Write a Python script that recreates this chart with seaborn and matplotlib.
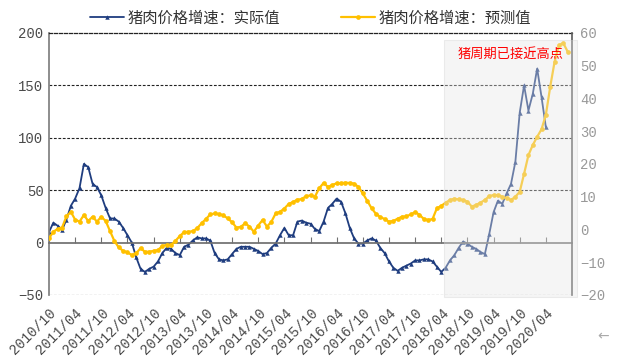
import matplotlib
matplotlib.use("Agg")
import matplotlib.pyplot as plt
import matplotlib.transforms as mtransforms
from matplotlib.patches import Rectangle
import pandas as pd
import seaborn as sns

# months counted from 2010/10, one point per month
actual = [10, 19, 16, 12, 22, 35, 42, 52, 75, 72,
          56, 53, 45, 33, 23, 23, 20, 14, 7, 0,
          -14, -25, -28, -25, -23, -18, -10, -5, -6, -10,
          -12, -4, -2, 2, 5, 4, 4, 2, -10, -16,
          -17, -16, -11, -6, -4, -4, -4, -6, -8, -11,
          -10, -5, -1, 7, 14, 7, 7, 20, 21, 19,
          18, 13, 11, 20, 33, 37, 42, 39, 28, 14,
          4, -1, -1, 2, 4, 2, -5, -10, -18, -24,
          -27, -24, -22, -20, -17, -17, -16, -16, -18, -23,
          -28, -24, -17, -12, -5, 1, -1, -4, -6, -9,
          -11, 8, 29, 40, 37, 47, 56, 77, 124, 150,
          126, 142, 166, 139, 110]
forecast = [-2.7, -0.7, 0.2, 0.6, 4.0, 5.4, 3.0, 2.4, 4.4, 2.6,
            3.9, 2.4, 3.9, 2.6, -0.5, -3.5, -5.5, -6.5, -7.0, -7.8,
            -7.3, -5.7, -6.8, -6.8, -6.5, -6.3, -5.0, -4.7, -4.7, -3.5,
            -2.0, -0.8, -0.7, -0.5, 0.4, 1.9, 3.2, 4.6, 4.9, 4.7,
            4.3, 3.4, 2.2, 0.6, 0.8, 1.9, 0.9, -0.7, 1.2, 2.9,
            0.9, 2.3, 4.9, 5.4, 6.4, 7.8, 8.4, 9.1, 9.3, 10.2,
            10.4, 10.0, 12.6, 14.2, 13.0, 13.6, 14.1, 14.1, 14.3, 14.2,
            14.0, 13.0, 11.0, 8.8, 6.5, 4.8, 3.8, 3.2, 2.4, 2.6,
            3.3, 3.9, 4.0, 4.6, 5.3, 4.5, 3.2, 2.9, 3.2, 6.5,
            7.2, 8.2, 9.0, 9.4, 9.2, 9.0, 8.5, 7.0, 7.5, 8.2,
            9.0, 10.2, 10.5, 10.5, 10.0, 9.6, 9.0, 10.0, 11.5, 17.0,
            22.7, 25.8, 28.3, 30.6, 35.0, 43.6, 51.2, 56.3, 56.9, 54.3]
tick_labels = ["2010/10", "2011/04", "2011/10", "2012/04", "2012/10",
               "2013/04", "2013/10", "2014/04", "2014/10", "2015/04",
               "2015/10", "2016/04", "2016/10", "2017/04", "2017/10",
               "2018/04", "2018/10", "2019/04", "2019/10", "2020/04"]
label_actual = "猪肉价格增速：实际值"
label_forecast = "猪肉价格增速：预测值"
note = "猪周期已接近高点"
shade_start = 90.6  # start of the shaded forecast window (months)

df_a = pd.DataFrame({"m": range(len(actual)), "v": actual})
df_f = pd.DataFrame({"m": range(len(forecast)), "v": forecast})

sns.set_theme(style="white")
plt.rcParams["font.family"] = ["Noto Sans CJK SC", "DejaVu Sans"]
mono = "Liberation Mono"

BLUE = "#1f3d7f"
GOLD = "#ffc000"

fig = plt.figure(figsize=(6.18, 3.6), dpi=100)
ax = fig.add_axes([0.0793, 0.1806, 0.8463, 0.7278])
ax2 = ax.twinx()

sns.lineplot(data=df_a, x="m", y="v", ax=ax, color=BLUE, linewidth=1.3,
             marker="^", markersize=3.2, markeredgewidth=0, legend=False)
sns.lineplot(data=df_f, x="m", y="v", ax=ax2, color=GOLD, linewidth=1.6,
             marker="o", markersize=3.4, markeredgewidth=0, legend=False)

ax.set_xlim(0, 120)
ax.set_ylim(-50, 200)
ax2.set_ylim(-20, 60)
ax.set_xlabel("")
ax.set_ylabel("")
ax2.set_ylabel("")

# left axis
ax.set_yticks([-50, 0, 50, 100, 150, 200])
ax.tick_params(axis="y", length=0, labelsize=10, labelcolor="#4a4a4a", pad=4)
for t in ax.get_yticklabels():
    t.set_family(mono)
for y in (-50, 50, 100, 150):
    ax.axhline(y, color="#222222", linewidth=0.8, linestyle=(0, (2.5, 1.5)), zorder=1)
ax.spines["top"].set_linestyle((0, (2.5, 1.5)))
ax.spines["top"].set_color("#222222")
ax.spines["top"].set_linewidth(0.9)
ax.spines["left"].set_color("#808080")
ax.spines["right"].set_visible(False)
ax.spines["bottom"].set_position(("data", 0))
ax.spines["bottom"].set_color("#707070")
ax.set_xticks(range(0, 120, 6))
ax.tick_params(axis="x", direction="in", length=4, width=0.8, color="#707070",
               labelbottom=False, bottom=True)

# x labels along the bottom edge
sec = ax.secondary_xaxis("bottom")
sec.set_xticks(range(0, 120, 6))
sec.set_xticklabels(tick_labels, rotation=45, ha="right", rotation_mode="anchor",
                    family=mono, fontsize=10, color="#4a4a4a")
sec.tick_params(length=0, pad=8)
sec.spines["bottom"].set_visible(False)

# right axis
ax2.set_yticks(range(-20, 61, 10))
ax2.tick_params(axis="y", length=0, labelsize=10, labelcolor="#999999", pad=6)
for t in ax2.get_yticklabels():
    t.set_family(mono)
for s in ("top", "bottom", "left"):
    ax2.spines[s].set_visible(False)
ax2.spines["right"].set_color("#606060")

# shaded forecast window drawn over the lines
trans = mtransforms.blended_transform_factory(ax2.transData, ax2.transAxes)
ax2.add_patch(Rectangle((shade_start, -0.008), 121.1 - shade_start, 0.981,
                        transform=trans, facecolor="#e6e6e6", alpha=0.38,
                        edgecolor="#d0d0d0", linewidth=0.8, clip_on=False, zorder=5))
ax2.text(0.782, 0.92, note, transform=ax2.transAxes, color="#ff0000",
         fontsize=9.5, ha="left", va="center", zorder=6)

handles = [ax.lines[0], ax2.lines[0]]
fig.legend(handles, [label_actual, label_forecast], loc="center",
           bbox_to_anchor=(0.503, 0.95), ncol=2, frameon=False, fontsize=11,
           handlelength=2.2, handletextpad=0.25, columnspacing=4.0,
           labelcolor="#333333")

fig.text(0.985, 0.055, "←", color="#aaaaaa", fontsize=10, ha="right",
         family=["DejaVu Sans"])

fig.savefig("out.png", dpi=100)
